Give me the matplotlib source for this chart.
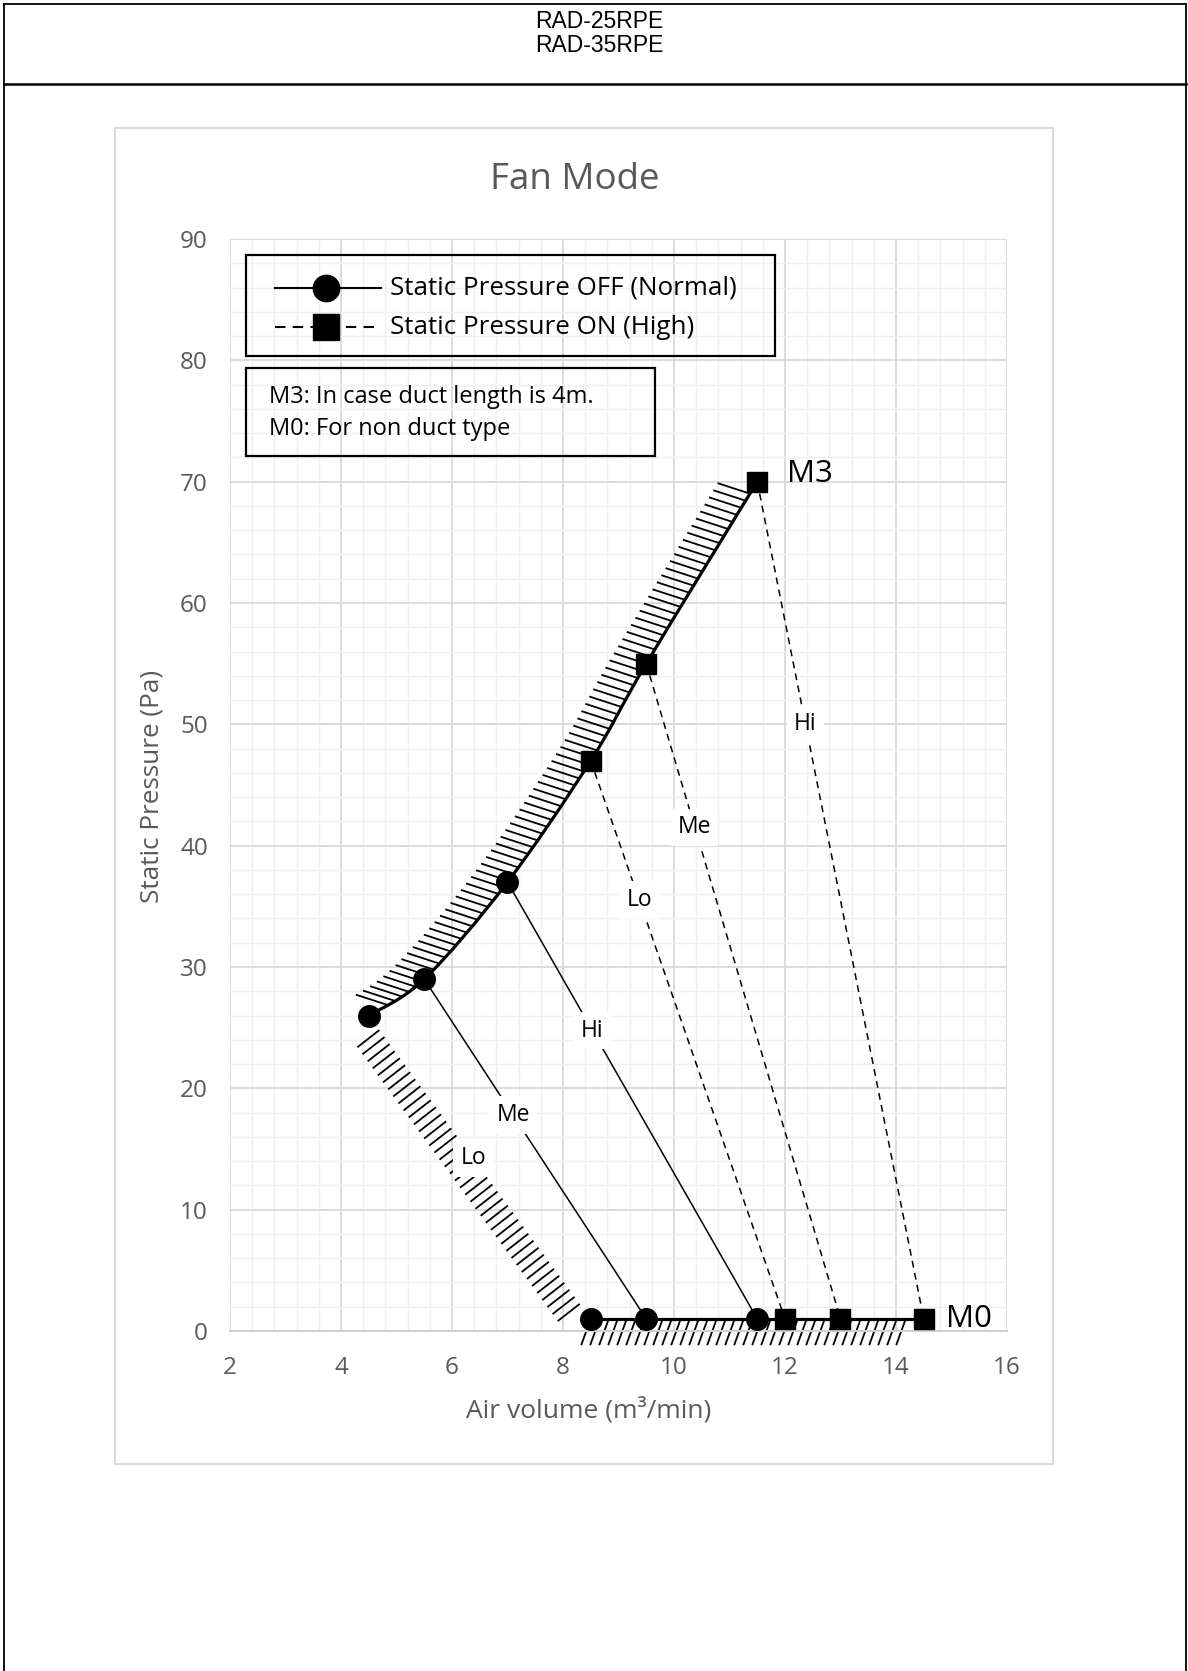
import matplotlib
matplotlib.use('Agg')
import matplotlib.pyplot as plt
import numpy as np
from matplotlib.path import Path
from matplotlib.patches import PathPatch, Rectangle
from matplotlib.lines import Line2D
from matplotlib.collections import LineCollection
from matplotlib.ticker import MultipleLocator

# data: Static Pressure OFF (Normal), top point of each speed and its point at M0
normal_speeds = ['Lo', 'Me', 'Hi']
normal_top_x = [4.5, 5.5, 7.0]
normal_top_y = [26, 29, 37]
normal_m0_x = [8.5, 9.5, 11.5]
normal_m0_y = [1, 1, 1]
# data: Static Pressure ON (High)
high_speeds = ['Lo', 'Me', 'Hi']
high_top_x = [8.5, 9.5, 11.5]
high_top_y = [47, 55, 70]
high_m0_x = [12.0, 13.0, 14.5]
high_m0_y = [1, 1, 1]
# where the speed label sits along each line (0 = top point, 1 = M0 point)
normal_label_t = [0.47, 0.40, 0.34]
high_label_t = [0.25, 0.25, 0.29]

x_ticks = [2, 4, 6, 8, 10, 12, 14, 16]
y_ticks = [0, 10, 20, 30, 40, 50, 60, 70, 80, 90]

FONT = ['Open Sans', 'DejaVu Sans']
W, H = 1188, 1671
GRAY = '#595959'

def fx(px):
    return px / W

def fy(py):
    return 1 - py / H

fig = plt.figure(figsize=(W / 100, H / 100), dpi=100)

# page frame and header
for x0, y0, x1, y1, lw in [(4, 4, 1186, 4, 1.3), (4, 84, 1186, 84, 1.8),
                           (4, 4, 4, H, 1.3), (1186, 4, 1186, H, 1.3)]:
    fig.add_artist(Line2D([fx(x0), fx(x1)], [fy(y0), fy(y1)], color='black', lw=lw))
fig.text(fx(599), fy(22), 'RAD-25RPE', ha='center', va='center', fontsize=16.5,
         family=['Liberation Sans', 'DejaVu Sans'])
fig.text(fx(599), fy(46), 'RAD-35RPE', ha='center', va='center', fontsize=16.5,
         family=['Liberation Sans', 'DejaVu Sans'])

# chart area frame
fig.add_artist(Rectangle((fx(115), fy(1464)), fx(1053) - fx(115), fy(128) - fy(1464),
                         fill=False, edgecolor='#d9d9d9', lw=1.5))

ax = fig.add_axes([fx(230), fy(1331), fx(1007) - fx(230), fy(239) - fy(1331)])
ax.set_xlim(2, 16)
ax.set_ylim(0, 90)
ax.set_xticks(x_ticks)
ax.set_yticks(y_ticks)
ax.xaxis.set_minor_locator(MultipleLocator(0.4))
ax.yaxis.set_minor_locator(MultipleLocator(2))
ax.grid(which='major', color='#d9d9d9', lw=1.3)
ax.grid(which='minor', color='#efefef', lw=1.0)
ax.set_axisbelow(True)
for s in ax.spines.values():
    s.set_visible(False)
ax.spines['bottom'].set_visible(True)
ax.spines['bottom'].set_color('#d0d0d0')
ax.spines['bottom'].set_linewidth(1.5)
ax.tick_params(which='both', length=0)
ax.tick_params(axis='y', pad=16)
ax.tick_params(axis='x', pad=18)
for lab in ax.get_xticklabels() + ax.get_yticklabels():
    lab.set_fontsize(17.5)
    lab.set_color(GRAY)
    lab.set_family(FONT)

fig.text(fx(575), fy(180), 'Fan Mode', ha='center', va='center', fontsize=26.5,
         color=GRAY, family=FONT)
fig.text(fx(152), fy(786), 'Static Pressure (Pa)', ha='center', va='center',
         rotation=90, fontsize=18.8, color=GRAY, family=FONT)
fig.text(fx(589), fy(1410), 'Air volume (m³/min)', ha='center', va='center',
         fontsize=19, color=GRAY, family=FONT)

# lines for each fan speed
for i in range(3):
    if i > 0:  # Lo (normal) is shown by the hatched limit only
        ax.plot([normal_top_x[i], normal_m0_x[i]], [normal_top_y[i], normal_m0_y[i]],
                color='black', lw=1.1, zorder=3)
    ax.plot([high_top_x[i], high_m0_x[i]], [high_top_y[i], high_m0_y[i]],
            color='black', lw=1.1, ls=(0, (4.5, 3.5)), zorder=3)

for tops_x, tops_y, m0_x, m0_y, ts, names in [
        (normal_top_x, normal_top_y, normal_m0_x, normal_m0_y, normal_label_t, normal_speeds),
        (high_top_x, high_top_y, high_m0_x, high_m0_y, high_label_t, high_speeds)]:
    for i in range(3):
        lx = tops_x[i] + ts[i] * (m0_x[i] - tops_x[i])
        ly = tops_y[i] + ts[i] * (m0_y[i] - tops_y[i])
        ax.text(lx, ly, names[i], ha='center', va='center', fontsize=16.5, family=FONT,
                zorder=4, bbox=dict(boxstyle='square,pad=0.3', fc='white', ec='none'))

# smooth upper limit curve through the top points
bx = np.array(normal_top_x + high_top_x, dtype=float)
by = np.array(normal_top_y + high_top_y, dtype=float)
P = np.column_stack([bx, by])
Pe = np.vstack([P[0], P, P[-1]])
verts = [P[0]]
codes = [Path.MOVETO]
for i in range(len(P) - 1):
    p0, p1, p2, p3 = Pe[i], Pe[i + 1], Pe[i + 2], Pe[i + 3]
    verts += [p1 + (p2 - p0) / 6, p2 - (p3 - p1) / 6, p2]
    codes += [Path.CURVE4] * 3
curve = Path(np.array(verts), codes)
ax.add_patch(PathPatch(curve, fill=False, edgecolor='black', lw=2.3, zorder=3))

# lower limit line at M0
m0_all_x = normal_m0_x + high_m0_x
m0_all_y = normal_m0_y + high_m0_y
ax.plot([m0_all_x[0], m0_all_x[-1]], [m0_all_y[0], m0_all_y[-1]], color='black',
        lw=2.3, zorder=3)


def hatch(xs, ys, spacing, angle, length, start, end):
    pts = ax.transData.transform(np.column_stack([xs, ys]))
    d = np.hypot(*np.diff(pts, axis=0).T)
    s = np.concatenate([[0], np.cumsum(d)])
    pos = np.arange(start, s[-1] - end, spacing)
    px = np.interp(pos, s, pts[:, 0])
    py = np.interp(pos, s, pts[:, 1])
    a = np.deg2rad(angle)
    qx = px + length * np.cos(a)
    qy = py + length * np.sin(a)
    inv = ax.transData.inverted()
    p_data = inv.transform(np.column_stack([px, py]))
    q_data = inv.transform(np.column_stack([qx, qy]))
    segs = np.stack([p_data, q_data], axis=1)
    ax.add_collection(LineCollection(segs, colors='black', lw=1.3, zorder=2,
                                     clip_on=False))


# hatching along the upper curve
tt = np.linspace(0, 1, 60)
cpts = np.vstack([bez(tt) for bez, code in curve.iter_bezier() if code == Path.CURVE4])
hatch(cpts[:, 0], cpts[:, 1], 8.3, 162, 34, 22, 10)
# hatching along the Lo (normal) line
hatch([normal_top_x[0], normal_m0_x[0]], [normal_top_y[0], normal_m0_y[0]],
      8.7, 218, 28, 18, 12)
# hatching under the M0 line
hatch([m0_all_x[0], m0_all_x[-1]], [m0_all_y[0], m0_all_y[-1]], 9, 250, 28, 0, 12)

# markers
ax.plot(normal_top_x + normal_m0_x, normal_top_y + normal_m0_y, 'o', color='black',
        ms=15.5, ls='none', zorder=5, clip_on=False)
ax.plot(high_top_x + high_m0_x, high_top_y + high_m0_y, 's', color='black',
        ms=15, ls='none', zorder=5, clip_on=False)

ax.annotate('M3', (high_top_x[-1], high_top_y[-1]), xytext=(30, 8),
            textcoords='offset pixels', va='center', ha='left', fontsize=22.5, family=FONT)
ax.annotate('M0', (high_m0_x[-1], high_m0_y[-1]), xytext=(22, 0),
            textcoords='offset pixels', va='center', ha='left', fontsize=22.5, family=FONT)

# legend
fig.add_artist(Rectangle((fx(246), fy(356)), fx(775) - fx(246), fy(255) - fy(356),
                         fill=False, edgecolor='black', lw=1.6))
fig.add_artist(Line2D([fx(275), fx(381)], [fy(288), fy(288)], color='black', lw=1.5))
fig.add_artist(Line2D([fx(326)], [fy(288)], marker='o', ms=19, color='black'))
fig.add_artist(Line2D([fx(275), fx(381)], [fy(327), fy(327)], color='black', lw=1.5,
                      ls=(0, (5, 3.5))))
fig.add_artist(Line2D([fx(326)], [fy(327)], marker='s', ms=18.5, color='black'))
fig.text(fx(390), fy(288), 'Static Pressure OFF (Normal)', va='center', fontsize=18.7,
         family=FONT)
fig.text(fx(390), fy(327), 'Static Pressure ON (High)', va='center', fontsize=18.7,
         family=FONT)

# note box
fig.add_artist(Rectangle((fx(246), fy(456)), fx(655) - fx(246), fy(368) - fy(456),
                         fill=False, edgecolor='black', lw=1.6))
fig.text(fx(269), fy(397), 'M3: In case duct length is 4m.', va='center', fontsize=17,
         family=FONT)
fig.text(fx(269), fy(429), 'M0: For non duct type', va='center', fontsize=17,
         family=FONT)

fig.savefig('out.png', dpi=100)
